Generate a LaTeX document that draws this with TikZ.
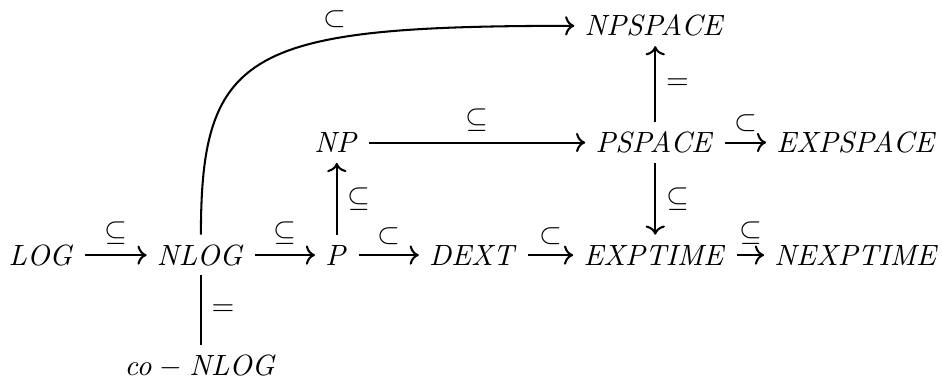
\documentclass[tikz,border=0pt]{standalone}
\usepackage{amsmath,amssymb}
\usetikzlibrary{arrows.meta}
\tikzset{
  classnode/.style={inner sep=3.33pt},
  incl/.style={-{Computer Modern Rightarrow},line width=0.7pt},
  eqline/.style={line width=0.7pt}
}
\begin{document}
\begin{tikzpicture}
  \useasboundingbox (0,0) rectangle (11.30,4.60);
  % bottom row
  \node[classnode] (log) at (0.50,1.54) {$\mathit{LOG}$};
  \node[classnode] (nlog) at (2.41,1.54) {$\mathit{NLOG}$};
  \node[classnode] (p) at (4.04,1.54) {$\mathit{P}$};
  \node[classnode] (dext) at (5.68,1.54) {$\mathit{DEXT}$};
  \node[classnode] (exptime) at (7.86,1.54) {$\mathit{EXPTIME}$};
  \node[classnode] (nexptime) at (10.28,1.54) {$\mathit{NEXPTIME}$};
  \node[classnode] (conlog) at (2.41,0.20) {$\mathit{co}-\mathit{NLOG}$};
  % upper rows
  \node[classnode] (np) at (4.04,2.89) {$\mathit{NP}$};
  \node[classnode] (pspace) at (7.86,2.89) {$\mathit{PSPACE}$};
  \node[classnode] (expspace) at (10.28,2.89) {$\mathit{EXPSPACE}$};
  \node[classnode] (npspace) at (7.86,4.29) {$\mathit{NPSPACE}$};

  \draw[incl] (log) -- node[above] {$\subseteq$} (nlog);
  \draw[incl] (nlog) -- node[above] {$\subseteq$} (p);
  \draw[incl] (p) -- node[above] {$\subset$} (dext);
  \draw[incl] (dext) -- node[above] {$\subset$} (exptime);
  \draw[incl] (exptime) -- node[above] {$\subseteq$} (nexptime);
  \draw[eqline] (nlog) -- node[right] {$=$} (conlog);
  \draw[incl] (p) -- node[right] {$\subseteq$} (np);
  \draw[incl] (np) -- node[above] {$\subseteq$} (pspace);
  \draw[incl] (pspace) -- node[above] {$\subset$} (expspace);
  \draw[incl] (pspace) -- node[right] {$=$} (npspace);
  \draw[incl] (pspace) -- node[right] {$\subseteq$} (exptime);
  \draw[incl] (nlog.north) .. controls +(0,2.22) and +(-3.9,0) .. node[pos=0.67,above] {$\subset$} (npspace.west);
\end{tikzpicture}
\end{document}
